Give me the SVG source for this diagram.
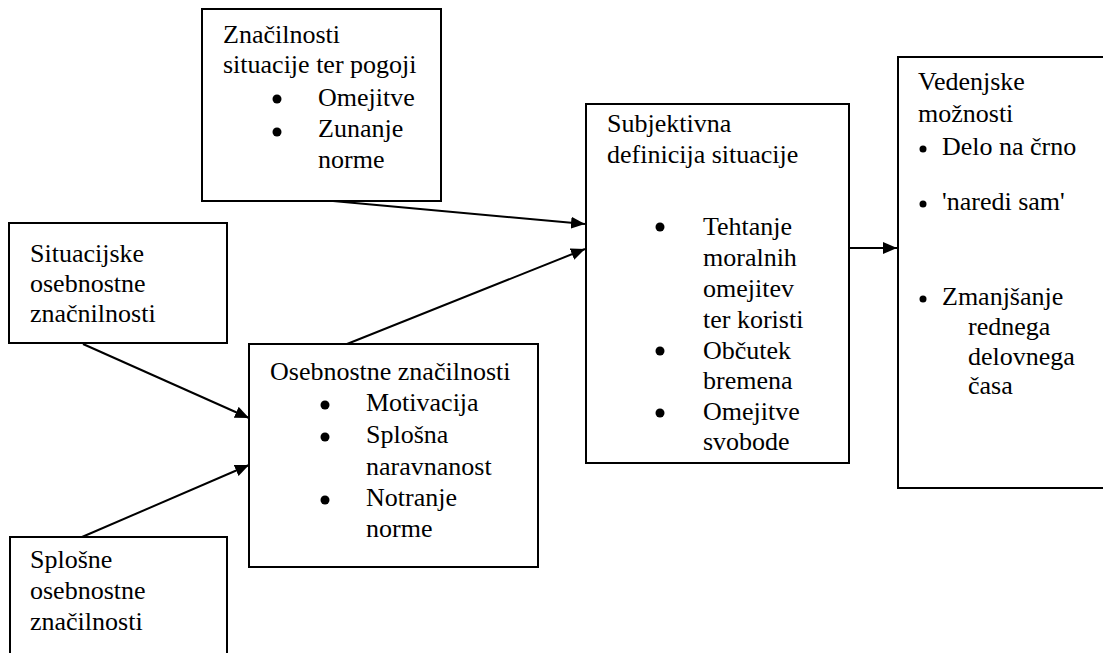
<svg xmlns="http://www.w3.org/2000/svg" width="1103" height="653" viewBox="0 0 1103 653">
<defs>
<marker id="ah" viewBox="0 0 14 12" refX="14" refY="6" markerWidth="14" markerHeight="12" markerUnits="userSpaceOnUse" orient="auto">
<path d="M0,0 L14,6 L0,12 Z" fill="#000"/>
</marker>
<style>
.box{fill:#fff;stroke:#000;stroke-width:2}
.t{font-size:26px;fill:#000}
.b{fill:#000}
.c{fill:none;stroke:#000;stroke-width:2}
</style>
</defs>
<rect width="1103" height="653" fill="#fff"/>
<g id="connectors">
<line class="c" x1="333" y1="201" x2="585" y2="224" marker-end="url(#ah)"/>
<line class="c" x1="347" y1="344" x2="585" y2="249" marker-end="url(#ah)"/>
<line class="c" x1="849" y1="248" x2="897" y2="248" marker-end="url(#ah)"/>
<line class="c" x1="83" y1="344" x2="249" y2="418" marker-end="url(#ah)"/>
<line class="c" x1="82" y1="537" x2="249" y2="465" marker-end="url(#ah)"/>
</g>
<g font-family="Liberation Serif, Times New Roman, DejaVu Serif, serif">
<g id="n1">
<rect class="box" x="202" y="9" width="239" height="192"/>
<text class="t" x="223" y="43">Značilnosti</text>
<text class="t" x="223" y="73">situacije ter pogoji</text>
<circle class="b" cx="277" cy="99" r="4.5"/>
<text class="t" x="318" y="106">Omejitve</text>
<circle class="b" cx="277" cy="132" r="4.5"/>
<text class="t" x="318" y="137">Zunanje</text>
<text class="t" x="318" y="168">norme</text>
</g>
<g id="n2">
<rect class="box" x="9" y="223" width="218" height="120"/>
<text class="t" x="30" y="262">Situacijske</text>
<text class="t" x="30" y="292">osebnostne</text>
<text class="t" x="30" y="322">značnilnosti</text>
</g>
<g id="n3">
<rect class="box" x="10" y="537" width="217" height="130"/>
<text class="t" x="30" y="568">Splošne</text>
<text class="t" x="30" y="599">osebnostne</text>
<text class="t" x="30" y="630">značilnosti</text>
</g>
<g id="n4">
<rect class="box" x="249" y="344" width="289" height="223"/>
<text class="t" x="270" y="380">Osebnostne značilnosti</text>
<circle class="b" cx="325" cy="405" r="4.5"/>
<text class="t" x="366" y="411">Motivacija</text>
<circle class="b" cx="325" cy="437" r="4.5"/>
<text class="t" x="366" y="443">Splošna</text>
<text class="t" x="366" y="475">naravnanost</text>
<circle class="b" cx="325" cy="500" r="4.5"/>
<text class="t" x="366" y="506">Notranje</text>
<text class="t" x="366" y="537">norme</text>
</g>
<g id="n5">
<rect class="box" x="586" y="104" width="263" height="359"/>
<text class="t" x="607" y="132">Subjektivna</text>
<text class="t" x="607" y="163">definicija situacije</text>
<circle class="b" cx="660" cy="227" r="4.5"/>
<text class="t" x="703" y="235">Tehtanje</text>
<text class="t" x="703" y="266">moralnih</text>
<text class="t" x="703" y="297">omejitev</text>
<text class="t" x="703" y="328">ter koristi</text>
<circle class="b" cx="660" cy="351" r="4.5"/>
<text class="t" x="703" y="359">Občutek</text>
<text class="t" x="703" y="389">bremena</text>
<circle class="b" cx="660" cy="413" r="4.5"/>
<text class="t" x="703" y="420">Omejitve</text>
<text class="t" x="703" y="450">svobode</text>
</g>
<g id="n6">
<rect class="box" x="898" y="57" width="215" height="431"/>
<text class="t" x="918" y="90">Vedenjske</text>
<text class="t" x="918" y="122">možnosti</text>
<circle class="b" cx="923" cy="149" r="3.5"/>
<text class="t" x="942" y="155">Delo na črno</text>
<circle class="b" cx="923" cy="204" r="3.5"/>
<text class="t" x="942" y="210">'naredi sam'</text>
<circle class="b" cx="923" cy="299" r="3.5"/>
<text class="t" x="942" y="305">Zmanjšanje</text>
<text class="t" x="968" y="335">rednega</text>
<text class="t" x="968" y="365">delovnega</text>
<text class="t" x="968" y="394">časa</text>
</g>
</g>
</svg>
